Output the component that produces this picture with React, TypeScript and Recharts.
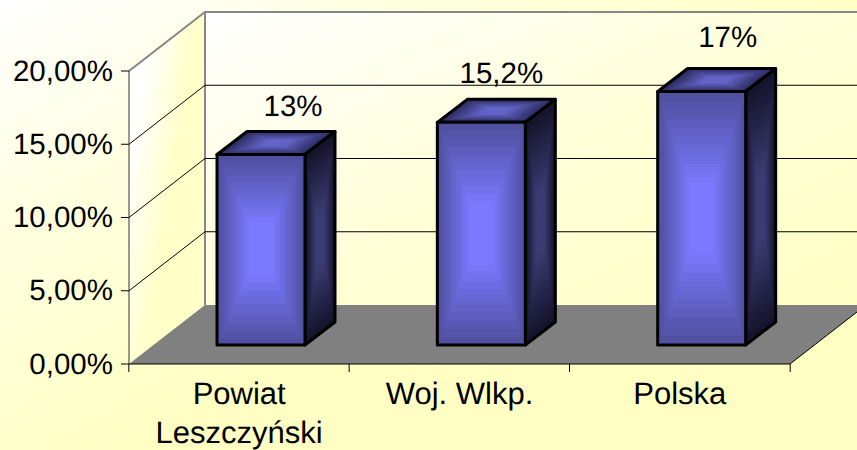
import React from 'react';
import { BarChart, Bar, XAxis, YAxis, CartesianGrid, ReferenceArea, LabelList } from 'recharts';

const CATEGORIES = ['Powiat\nLeszczyński', 'Woj. Wlkp.', 'Polska'];
const VALUES = [13, 15.2, 17.3];
const VALUE_LABELS = ['13%', '15,2%', '17%'];
const Y_TICKS = [0, 5, 10, 15, 20];

const WIDTH = 857;
const HEIGHT = 450;
const FONT = '"Liberation Sans", Arial, sans-serif';
const FONT_SIZE = 29.5;
const CATEGORY_FONT_SIZE = 31;
const BAND = 220.67;
// 3D look: how far the back wall and the bars are pushed from the axis plane
const WALL_DX = 76;
const WALL_DY = 59;
const BAR_DX = 22;
const BAR_DY = 19;
const BOX_DX = 30;
const BOX_DY = 23;
const LABEL_DX = [32, 20, 26];
const LABEL_DY = [39, 39, 45];

function mix(a: number[], b: number[], t: number) {
  const c = a.map((v, i) => Math.round(v + (b[i] - v) * t));
  return `rgb(${c[0]},${c[1]},${c[2]})`;
}

// banded "from centre" fill, like the office gradient
function Face({ pts, edge, centre, stroke = 3 }: { pts: number[][]; edge: number[]; centre: number[]; stroke?: number }) {
  const cx = pts.reduce((s, p) => s + p[0], 0) / pts.length;
  const cy = pts.reduce((s, p) => s + p[1], 0) / pts.length;
  const steps = 14;
  const bands = [];
  for (let i = 0; i < steps; i++) {
    const k = 1 - i / steps;
    const p = pts.map((q) => `${cx + (q[0] - cx) * k},${cy + (q[1] - cy) * k}`).join(' ');
    bands.push(<polygon key={i} points={p} fill={mix(edge, centre, Math.min(1, i / (steps - 4)))} />);
  }
  return (
    <g>
      {bands}
      <polygon points={pts.map((q) => q.join(',')).join(' ')} fill="none" stroke="#000" strokeWidth={stroke} strokeLinejoin="round" />
    </g>
  );
}

function Box3D(props: any) {
  const { x, y, width, height } = props;
  const l = x + BAR_DX;
  const r = l + width;
  const t = y - BAR_DY;
  const b = t + height;
  return (
    <g>
      <Face pts={[[l, t], [l + BOX_DX, t - BOX_DY], [r + BOX_DX, t - BOX_DY], [r, t]]} edge={[44, 44, 96]} centre={[100, 100, 200]} />
      <Face pts={[[r, t], [r + BOX_DX, t - BOX_DY], [r + BOX_DX, b - BOX_DY], [r, b]]} edge={[20, 20, 44]} centre={[60, 60, 116]} />
      <Face pts={[[l, t], [r, t], [r, b], [l, b]]} edge={[80, 80, 160]} centre={[122, 122, 255]} />
    </g>
  );
}

function Walls(props: any) {
  const { x, y, width, height } = props;
  const r = x + width;
  const b = y + height;
  return (
    <g>
      <defs>
        <linearGradient id="backWall" x1="0" y1="0" x2="1" y2="1">
          <stop offset="0" stopColor="#ffffff" />
          <stop offset="0.5" stopColor="#ffffd8" />
          <stop offset="1" stopColor="#ffffc4" />
        </linearGradient>
        <linearGradient id="sideWall" x1="0" y1="0" x2="0.8" y2="0.6">
          <stop offset="0.25" stopColor="#ffffff" />
          <stop offset="0.75" stopColor="#ffffc8" />
        </linearGradient>
      </defs>
      <rect x={x + WALL_DX} y={y - WALL_DY} width={width} height={height} fill="url(#backWall)" />
      <polygon
        points={`${x},${y} ${x + WALL_DX},${y - WALL_DY} ${x + WALL_DX},${b - WALL_DY} ${x},${b}`}
        fill="url(#sideWall)"
      />
      <polygon
        points={`${x},${b} ${r},${b} ${r + WALL_DX},${b - WALL_DY} ${x + WALL_DX},${b - WALL_DY}`}
        fill="#808080"
      />
      <line x1={r} y1={b} x2={r + WALL_DX} y2={b - WALL_DY} stroke="#000" />
      <polyline
        points={`${x},${y} ${x + WALL_DX},${y - WALL_DY} ${WIDTH},${y - WALL_DY}`}
        fill="none"
        stroke="#868686"
        strokeWidth={2}
      />
      <line x1={x + WALL_DX} y1={y - WALL_DY} x2={x + WALL_DX} y2={b - WALL_DY} stroke="#868686" strokeWidth={2} />
    </g>
  );
}

function GridLine(props: any) {
  const { x1, y1, index } = props;
  // 0% sits on the floor and 20% is the wall's top edge
  if (y1 === undefined) return <g />;
  if (Math.abs(y1 - 364) < 1 || Math.abs(y1 - 71) < 1) return <g key={index} />;
  return (
    <g key={index}>
      <line x1={x1} y1={y1} x2={x1 + WALL_DX} y2={y1 - WALL_DY} stroke="#000" strokeWidth={1} />
      <line x1={x1 + WALL_DX} y1={y1 - WALL_DY} x2={WIDTH} y2={y1 - WALL_DY} stroke="#000" strokeWidth={1} />
    </g>
  );
}

function ValueTick(props: any) {
  const { x, y, payload } = props;
  return (
    <text x={x} y={y + 9.5} textAnchor="end" fontFamily={FONT} fontSize={FONT_SIZE} fill="#000">
      {`${payload.value},00%`}
    </text>
  );
}

function CategoryTick(props: any) {
  const { x, y, payload, index } = props;
  const lines = String(payload.value).split('\n');
  const last = index === CATEGORIES.length - 1;
  return (
    <g>
      <line x1={x - BAND / 2} y1={y} x2={x - BAND / 2} y2={y + 8} stroke="#000" />
      {last && <line x1={x + BAND / 2} y1={y} x2={x + BAND / 2} y2={y + 8} stroke="#000" />}
      <text x={x} textAnchor="middle" fontFamily={FONT} fontSize={CATEGORY_FONT_SIZE} fill="#000">
        {lines.map((s, i) => (
          <tspan key={i} x={x} y={y + 40 + i * 39}>
            {s}
          </tspan>
        ))}
      </text>
    </g>
  );
}

function ValueLabel(props: any) {
  const { x, y, width, index } = props;
  const cx = x + width / 2 + BAR_DX + LABEL_DX[index];
  return (
    <text x={cx} y={y - BAR_DY - LABEL_DY[index]} textAnchor="middle" fontFamily={FONT} fontSize={FONT_SIZE} fill="#000">
      {VALUE_LABELS[index]}
    </text>
  );
}

export default function App() {
  const data = CATEGORIES.map((name, i) => ({ name, value: VALUES[i] }));
  return (
    <div
      style={{
        position: 'absolute',
        left: 0,
        top: 0,
        width: WIDTH,
        height: HEIGHT,
        overflow: 'hidden',
        textRendering: 'geometricPrecision',
        background: 'linear-gradient(150deg, #ffffff 0%, #ffffe0 25%, #ffffc4 55%)',
      }}
    >
      <BarChart width={WIDTH} height={HEIGHT} data={data} margin={{ top: 71, right: 67, bottom: 0, left: 0 }} barSize={88}>
        <ReferenceArea yAxisId={0} xAxisId={0} y1={0} y2={20} shape={<Walls />} fill="none" zIndex={-200} />
        <CartesianGrid horizontal={(p: any) => <GridLine {...p} />} vertical={false} />
        <XAxis
          dataKey="name"
          height={86}
          interval={0}
          axisLine={{ stroke: '#000' }}
          tickLine={false}
          tickSize={0}
          tickMargin={0}
          tick={<CategoryTick />}
        />
        <YAxis
          width={129}
          domain={[0, 20]}
          ticks={Y_TICKS}
          axisLine={{ stroke: '#333' }}
          tickLine={{ stroke: '#000' }}
          tickSize={8}
          tickMargin={8}
          tick={<ValueTick />}
        />
        <Bar dataKey="value" isAnimationActive={false} shape={<Box3D />}>
          <LabelList dataKey="value" content={<ValueLabel />} />
        </Bar>
      </BarChart>
    </div>
  );
}
